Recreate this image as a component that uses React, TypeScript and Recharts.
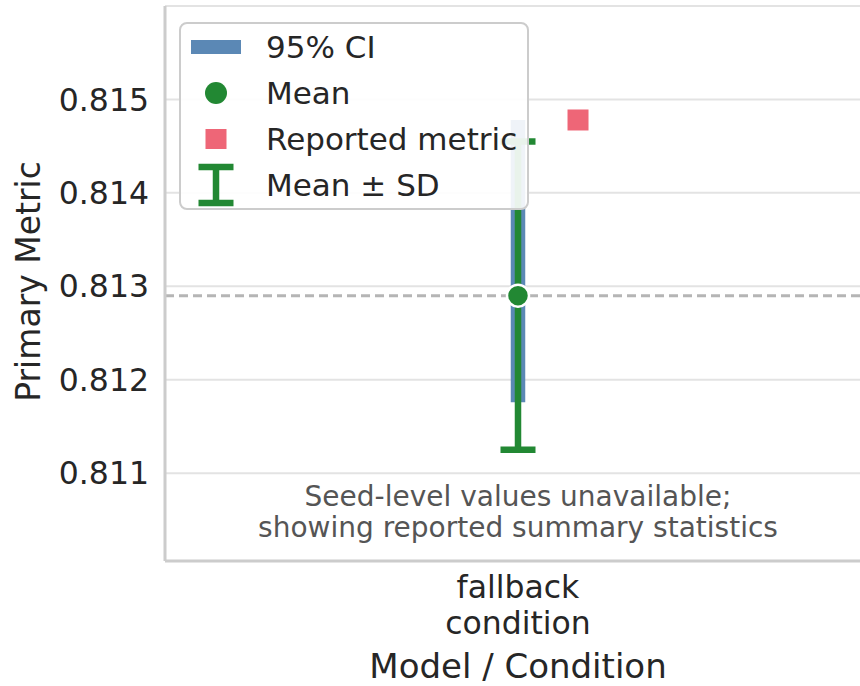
import {
  ScatterChart,
  Scatter,
  XAxis,
  YAxis,
  CartesianGrid,
  ReferenceLine,
  ErrorBar,
  Legend,
  Label,
} from "recharts";

// values
const categories = ["fallback condition"];
const categoryX = [0];
const meanValues = [0.8129];
const sdValues = [0.00165];
const ciLower = [0.81176];
const ciUpper = [0.81478];
const reportedValues = [0.81478];
const reportedShift = 0.085;
const yTicks = [0.811, 0.812, 0.813, 0.814, 0.815];
const xTicks = [0];

const BLUE = "#5b88b5";
const GREEN = "#228833";
const RED = "#EE6677";
const TEXT = "#262626";
const FONT = "DejaVu Sans";

const summary = categories.map((name, i) => ({
  name,
  x: categoryX[i],
  y: meanValues[i],
  ci: [meanValues[i] - ciLower[i], ciUpper[i] - meanValues[i]],
  sd: sdValues[i],
}));

const reported = categories.map((name, i) => ({
  name,
  x: categoryX[i] + reportedShift,
  y: reportedValues[i],
}));

const legendItems = [
  { key: "ci", label: "95% CI" },
  { key: "mean", label: "Mean" },
  { key: "reported", label: "Reported metric" },
  { key: "sd", label: "Mean ± SD" },
];

function LegendIcon({ kind }: { kind: string }) {
  return (
    <svg width={56} height={46}>
      {kind === "ci" && <rect x={3} y={16} width={50} height={14} fill={BLUE} />}
      {kind === "mean" && <circle cx={28} cy={23} r={11} fill={GREEN} />}
      {kind === "reported" && <rect x={17.5} y={13} width={21} height={20} fill={RED} />}
      {kind === "sd" && (
        <g stroke={GREEN} strokeWidth={6.5}>
          <line x1={10.5} x2={45.5} y1={5} y2={5} />
          <line x1={28} x2={28} y1={5} y2={41} />
          <line x1={10.5} x2={45.5} y1={41} y2={41} />
        </g>
      )}
    </svg>
  );
}

function LegendBox() {
  return (
    <div
      style={{
        width: 346,
        height: 184,
        border: "2px solid #cccccc",
        borderRadius: 8,
        background: "rgba(255,255,255,0.9)",
        fontFamily: FONT,
        fontSize: 31,
        color: TEXT,
        boxSizing: "content-box",
      }}
    >
      {legendItems.map((it) => (
        <div key={it.key} style={{ display: "flex", alignItems: "center", height: 46 }}>
          <div style={{ marginLeft: 7, height: 46 }}>
            <LegendIcon kind={it.key} />
          </div>
          <span style={{ marginLeft: 22, whiteSpace: "nowrap" }}>{it.label}</span>
        </div>
      ))}
    </div>
  );
}

function CategoryTick(props: any) {
  const { x, y, payload } = props;
  const idx = categoryX.indexOf(payload.value);
  const lines = (categories[idx] ?? "").split(" ");
  return (
    <text x={x} y={y} textAnchor="middle" fill={TEXT} fontSize={31.5} fontFamily={FONT}>
      {lines.map((ln, i) => (
        <tspan key={i} x={x} dy={i === 0 ? 29 : 36}>
          {ln}
        </tspan>
      ))}
    </text>
  );
}

function XTitle(props: any) {
  const vb = props.viewBox;
  return (
    <text
      x={vb.x + vb.width / 2}
      y={vb.y + 117}
      textAnchor="middle"
      fill={TEXT}
      fontSize={34}
      fontFamily={FONT}
    >
      Model / Condition
    </text>
  );
}

function YTitle(props: any) {
  const vb = props.viewBox;
  const cy = vb.y + vb.height / 2 - 2;
  return (
    <text
      x={0}
      y={0}
      transform={`translate(40, ${cy}) rotate(-90)`}
      textAnchor="middle"
      fill={TEXT}
      fontSize={33}
      fontFamily={FONT}
    >
      Primary Metric
    </text>
  );
}

export default function App() {
  return (
    <div style={{ position: "absolute", left: 0, top: 0, width: 860, height: 686, background: "#fff" }}>
      <ScatterChart width={860} height={686} margin={{ top: 6, right: -11, bottom: 0, left: 0 }}>
        <CartesianGrid vertical={false} stroke="#e3e3e3" strokeWidth={2} />
        <XAxis
          type="number"
          dataKey="x"
          domain={[-0.5, 0.5]}
          ticks={xTicks}
          allowDataOverflow
          height={125}
          axisLine={{ stroke: "#cccccc", strokeWidth: 3 }}
          tickLine={false}
          tickMargin={2}
          tick={<CategoryTick />}
        >
          <Label content={<XTitle />} />
        </XAxis>
        <YAxis
          type="number"
          dataKey="y"
          domain={[0.81006, 0.816]}
          ticks={yTicks}
          allowDataOverflow
          width={165}
          axisLine={{ stroke: "#cccccc", strokeWidth: 3 }}
          tickLine={false}
          tickMargin={10}
          tickFormatter={(v: number) => v.toFixed(3)}
          tick={{ fill: TEXT, fontSize: 31.5, fontFamily: FONT }}
        >
          <Label content={<YTitle />} />
        </YAxis>
        <ReferenceLine
          y={meanValues[0]}
          stroke="#b5b5b5"
          strokeWidth={3}
          strokeDasharray="9 5"
        />
        <Scatter data={summary} isAnimationActive={false} shape={() => <g />}>
          <ErrorBar dataKey="ci" direction="y" width={0} strokeWidth={14.5} stroke={BLUE} isAnimationActive={false} />
        </Scatter>
        <Scatter
          data={summary}
          isAnimationActive={false}
          shape={(p: any) => <circle cx={p.cx} cy={p.cy} r={11} fill={GREEN} stroke="#fff" strokeWidth={2.5} />}
        >
          <ErrorBar dataKey="sd" direction="y" width={17.5} strokeWidth={6.5} stroke={GREEN} isAnimationActive={false} />
        </Scatter>
        <Scatter
          data={reported}
          isAnimationActive={false}
          shape={(p: any) => <rect x={p.cx - 10.5} y={p.cy - 10.5} width={21} height={21} fill={RED} />}
        />
        <Legend
          layout="vertical"
          align="center"
          verticalAlign="middle"
          content={() => <LegendBox />}
          wrapperStyle={{ left: 179, top: 22, width: 350, height: 188 }}
        />
      </ScatterChart>
      <div
        style={{
          position: "absolute",
          left: 165,
          width: 706,
          top: 481,
          textAlign: "center",
          fontFamily: FONT,
          fontSize: 28,
          lineHeight: "31px",
          color: "#555555",
        }}
      >
        Seed-level values unavailable;
        <br />
        showing reported summary statistics
      </div>
    </div>
  );
}
